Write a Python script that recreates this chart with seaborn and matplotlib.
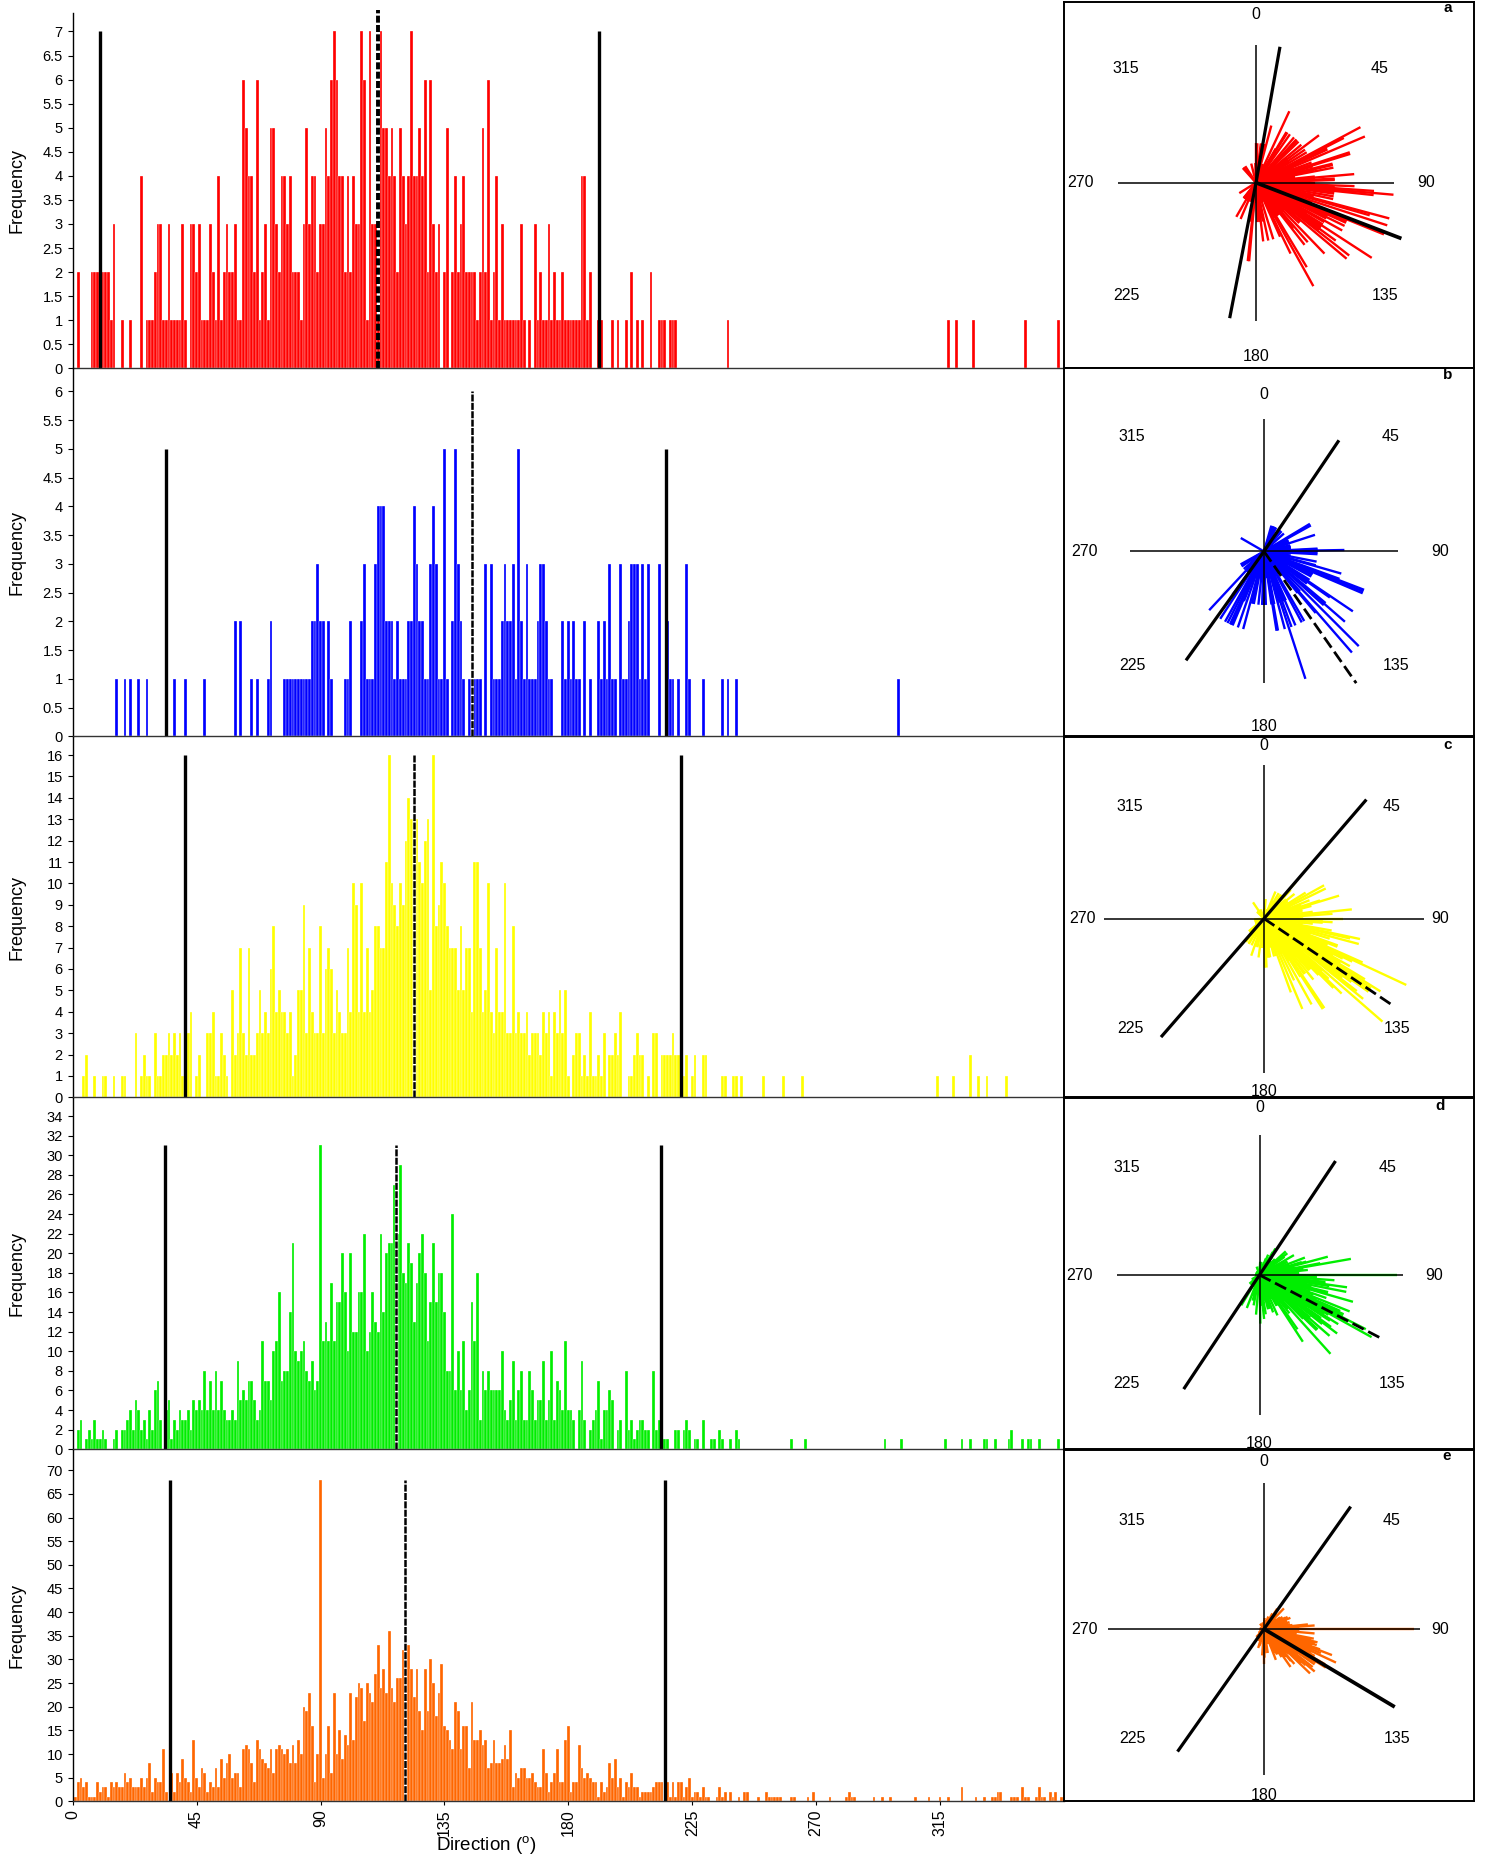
import numpy as np
import pandas as pd
import matplotlib
matplotlib.use('Agg')
import matplotlib.pyplot as plt
from matplotlib.ticker import FuncFormatter
import seaborn as sns

sns.set_theme(style='white')
plt.rcParams['font.family'] = ['Liberation Sans', 'DejaVu Sans']
plt.rcParams['mathtext.fontset'] = 'custom'
plt.rcParams['mathtext.rm'] = 'Liberation Sans'
plt.rcParams['text.color'] = 'black'

# ---------------- data: frequency per 1-degree direction bin (0..359) ----------------
DEG = np.arange(360)

counts_a = [
    2,0,2,0,0,0,0,2,2,2, 0,2,2,2,1,3,0,0,1,0,
    0,1,0,0,0,4,0,1,1,1, 2,3,3,1,1,3,1,1,1,1,
    3,1,0,3,3,2,3,1,1,1, 3,2,1,4,1,2,3,2,2,3,
    1,1,6,5,4,4,2,6,1,2, 3,1,5,5,3,2,4,4,3,4,
    2,2,2,1,3,5,3,4,4,2, 3,3,5,4,6,7,6,4,4,2,
    4,2,4,3,3,7,6,1,7,3, 3,1,7,5,5,4,5,4,2,5,
    4,3,4,7,4,4,5,4,6,2, 6,3,2,3,0,2,5,0,2,4,
    2,3,4,2,2,2,2,1,2,5, 2,6,1,2,4,1,3,1,1,1,
    1,1,1,3,1,0,1,0,3,1, 2,1,1,3,1,2,1,1,2,1,
    1,1,1,1,1,4,4,1,2,0, 0,1,1,0,0,0,1,0,1,0,
    0,1,0,2,0,1,0,1,0,0, 2,0,0,1,1,1,0,1,1,1,
    0,0,0,0,0,0,0,0,0,0, 0,0,0,0,0,0,0,0,1,0,
    0,0,0,0,0,0,0,0,0,0, 0,0,0,0,0,0,0,0,0,0,
    0,0,0,0,0,0,0,0,0,0, 0,0,0,0,0,0,0,0,0,0,
    0,0,0,0,0,0,0,0,0,0, 0,0,0,0,0,0,0,0,0,0,
    0,0,0,0,0,0,0,0,0,0, 0,0,0,0,0,0,0,0,1,0,
    0,1,0,0,0,0,0,1,0,0, 0,0,0,0,0,0,0,0,0,0,
    0,0,0,0,0,0,1,0,0,0, 0,0,0,0,0,0,0,0,1,0,
]

counts_b = [
    0,0,0,0,0,0,0,0,0,0, 0,0,0,0,0,0,1,0,0,1,
    0,1,0,0,1,0,0,1,0,0, 0,0,0,0,0,0,0,1,0,0,
    0,1,0,0,0,0,0,0,1,0, 0,0,0,0,0,0,0,0,0,2,
    0,2,0,0,0,1,0,1,0,0, 0,1,2,0,0,0,0,1,1,1,
    1,1,1,1,1,1,1,2,2,3, 2,2,0,2,1,0,0,0,0,1,
    1,2,0,0,0,2,3,1,1,1, 3,4,4,4,2,2,2,1,2,1,
    1,1,2,2,4,3,2,2,1,1, 3,4,3,1,1,5,1,0,2,5,
    3,2,1,0,1,1,1,1,1,0, 3,0,3,1,1,1,2,3,2,2,
    3,1,5,2,1,3,1,1,1,2, 3,3,2,1,1,0,0,0,2,1,
    2,1,2,1,1,0,2,0,1,0, 0,2,1,2,1,3,1,1,0,3,
    1,1,2,3,3,3,1,3,1,3, 0,0,0,3,0,0,2,1,1,0,
    1,0,0,3,1,0,0,0,0,1, 0,0,0,0,0,0,1,0,1,0,
    0,1,0,0,0,0,0,0,0,0, 0,0,0,0,0,0,0,0,0,0,
    0,0,0,0,0,0,0,0,0,0, 0,0,0,0,0,0,0,0,0,0,
    0,0,0,0,0,0,0,0,0,0, 0,0,0,0,0,0,0,0,0,0,
    1,0,0,0,0,0,0,0,0,0, 0,0,0,0,0,0,0,0,0,0,
    0,0,0,0,0,0,0,0,0,0, 0,0,0,0,0,0,0,0,0,0,
    0,0,0,0,0,0,0,0,0,0, 0,0,0,0,0,0,0,0,0,0,
]

counts_c = [
    1,0,0,0,1,2,0,0,1,0, 0,1,1,0,0,1,0,0,1,1,
    0,0,0,3,0,1,2,1,1,0, 3,1,1,2,2,3,2,3,2,3,
    1,5,3,4,0,1,2,0,0,3, 3,4,1,1,3,2,1,0,5,2,
    3,7,3,2,7,2,2,3,5,3, 4,3,6,8,4,5,4,4,3,4,
    1,2,5,5,9,3,7,4,3,3, 8,3,6,7,6,3,5,4,3,3,
    7,4,10,9,4,10,4,7,4,5, 8,8,7,7,11,16,10,9,8,10,
    9,12,14,13,13,13,11,10,12,13, 5,16,8,9,11,10,8,7,7,7,
    5,8,5,7,7,4,11,11,7,4, 5,10,4,3,7,4,4,10,3,3,
    8,3,4,3,3,4,2,3,3,3, 2,4,3,4,1,4,3,5,3,5,
    1,0,2,3,3,1,2,1,4,1, 1,2,1,3,0,2,2,3,2,4,
    0,0,1,1,2,3,2,2,0,1, 0,3,3,0,2,2,2,2,3,2,
    2,0,1,2,0,1,2,0,0,2, 2,0,0,0,0,0,1,1,0,0,
    1,1,0,1,0,0,0,0,0,0, 0,1,0,0,0,0,0,0,1,0,
    0,0,0,0,0,1,0,0,0,0, 0,0,0,0,0,0,0,0,0,0,
    0,0,0,0,0,0,0,0,0,0, 0,0,0,0,0,0,0,0,0,0,
    0,0,0,0,0,0,0,0,0,0, 0,0,0,0,1,0,0,0,0,0,
    1,0,0,0,0,0,2,0,0,1, 0,0,1,0,0,0,0,0,0,1,
    0,0,0,0,0,0,0,0,0,0, 0,0,0,0,0,0,0,0,0,0,
]

counts_d = [
    1,0,2,3,0,1,2,1,3,1, 1,2,1,0,0,1,2,0,2,2,
    3,4,2,5,4,2,3,1,4,2, 6,7,3,0,4,5,1,3,2,4,
    3,3,4,2,5,4,5,4,8,4, 7,4,8,4,7,4,3,3,4,3,
    9,5,6,5,7,7,5,3,4,11, 7,7,5,10,11,16,7,8,8,14,
    21,10,9,10,11,8,7,9,6,7, 31,11,13,11,17,11,15,15,20,16,
    10,20,12,12,16,16,22,10,12,16, 13,12,22,14,20,21,21,27,22,29,
    18,17,21,19,13,17,20,22,18,11, 15,21,15,18,18,14,8,8,24,6,
    10,6,11,4,6,15,11,18,3,8, 6,8,6,6,6,6,10,4,3,5,
    9,3,6,8,3,3,8,6,3,5, 5,9,3,5,10,3,7,6,4,11,
    4,4,3,0,4,9,3,0,2,3, 4,7,1,4,4,6,5,0,2,3,
    0,8,2,3,1,2,3,3,2,2, 0,8,2,3,0,1,1,0,0,2,
    2,0,2,3,2,0,1,1,0,3, 0,0,1,1,0,2,1,0,0,1,
    0,2,1,0,0,0,0,0,0,0, 0,0,0,0,0,0,0,0,0,0,
    0,1,0,0,0,0,1,0,0,0, 0,0,0,0,0,0,0,0,0,0,
    0,0,0,0,0,0,0,0,0,0, 0,0,0,0,0,1,0,0,0,0,
    0,1,0,0,0,0,0,0,0,0, 0,0,0,0,0,0,0,1,0,0,
    0,0,0,1,0,0,1,0,0,0, 0,1,1,0,0,1,0,0,0,0,
    1,2,0,0,0,1,0,1,1,0, 0,1,0,0,0,0,0,0,1,0,
]

counts_e = [
    2,1,4,5,3,4,1,1,1,4, 2,3,3,1,4,3,4,3,3,6,
    4,5,3,3,3,5,3,5,8,2, 5,4,4,11,2,0,6,2,6,4,
    9,5,4,2,13,5,3,7,6,2, 4,3,7,3,9,5,8,10,5,6,
    6,3,11,12,11,8,4,13,11,9, 8,7,11,6,11,12,11,10,11,8,
    12,8,13,10,20,19,23,16,4,10, 68,5,10,16,6,23,10,15,9,14,
    12,23,13,22,25,24,17,25,23,21, 27,33,24,28,23,36,24,21,26,26,
    32,27,33,28,22,28,19,15,28,19, 30,25,18,23,29,16,15,13,11,21,
    19,11,16,16,7,21,13,13,15,12, 13,7,8,13,8,8,9,12,9,15,
    3,6,5,7,7,5,5,6,4,3, 3,11,6,2,4,6,11,4,4,13,
    16,2,4,4,12,7,5,6,5,4, 4,1,4,2,3,8,5,9,3,5,
    1,4,3,6,3,3,1,2,2,2, 2,3,4,4,4,0,4,1,4,1,
    4,4,1,3,5,1,2,2,1,3, 1,1,0,0,1,3,1,2,0,2,
    0,0,1,0,2,2,0,0,0,1, 0,0,2,1,1,1,1,1,0,0,
    0,1,1,0,0,0,0,1,0,2, 0,0,0,0,0,1,0,0,0,0,
    0,1,2,1,1,0,0,0,0,0, 0,1,0,0,1,0,0,1,0,0,
    0,0,0,0,0,0,1,0,0,0, 0,1,0,0,0,1,0,0,1,0,
    0,0,0,3,0,0,0,0,1,0, 0,1,0,0,1,1,2,2,0,0,
    0,1,1,1,0,3,1,1,0,0, 1,3,1,1,0,2,1,2,0,1,
]

panel_counts = [counts_a, counts_b, counts_c, counts_d, counts_e]
panel_letters = ['a', 'b', 'c', 'd', 'e']
panel_colors = ['#FF0000', '#0000FF', '#FFFF00', '#00EE00', '#FF6600']

# confidence-limit directions (solid lines), their height, mean direction (dashed) and its height
ci_dirs = [(10, 191), (34, 215.6), (40.7, 221), (33.7, 213.6), (35.3, 215.2)]
ci_height = [7, 5, 16, 31, 68]
mean_dir = [111, 145, 124, 117.5, 120.8]
mean_height = [7.45, 6, 16, 31, 68]
rose_mean_len = [7.9, 6.0, 16, 31, 69]

ytick_max = [7, 6, 16, 34, 70]
ytick_step = [0.5, 0.5, 1, 2, 5]
ylim_top = [7.39, 6.4, 16.86, 35.87, 74.35]

xtick_vals = [0, 45, 90, 135, 180, 225, 270, 315]
rose_labels = ['0', '45', '90', '135', '180', '225', '270', '315']

# ---------------- layout (pixels) ----------------
W, H, DPI = 1486, 1860, 100
HX0, HX1 = 72.7, 1064.0
tops = [12.7, 368.3, 736.7, 1097.7, 1449.7]
bots = [368.3, 736.3, 1097.3, 1449.3, 1801.3]
BX0, BX1 = 1063.5, 1474.0
box_tops = [2.4, 368.3, 736.7, 1097.7, 1449.7]
box_bots = [368.3, 736.3, 1097.3, 1449.3, 1800.5]
rose_centers = [(1256, 182.7), (1264, 551.4), (1264, 918.6), (1259.5, 1275), (1264, 1629)]
rose_R = [138, 134, 157, 137, 150]
cross_v = [138, 132, 154, 140, 146]
cross_h = [138, 134, 160, 143, 156]
# label offsets from rose centre (px): order 0,45,90,135,180,225,270,315
lab_off = [
    [(0, -168), (124, -114), (170, 0), (129, 113), (0, 174), (-130, 113), (-176, 0), (-130, -114)],
    [(0, -157), (127, -115), (176, 0), (132, 114), (0, 175), (-132, 114), (-180, 0), (-132, -115)],
    [(0, -173), (128, -112), (176, 0), (133, 110), (0, 173), (-134, 110), (-182, 0), (-134, -112)],
    [(0, -167), (128, -107), (175, 0), (133, 108), (0, 168), (-133, 108), (-180, 0), (-133, -107)],
    [(0, -168), (128, -109), (176, 0), (133, 109), (0, 166), (-132, 109), (-180, 0), (-132, -109)],
]
letter_xy = [(1448, 8), (1448, 375), (1448, 745), (1440, 1106), (1447, 1456)]


def rect(x0, y0, x1, y1):
    return [x0 / W, 1 - y1 / H, (x1 - x0) / W, (y1 - y0) / H]


fig = plt.figure(figsize=(W / DPI, H / DPI), dpi=DPI)
fig.patch.set_facecolor('white')

fmt = FuncFormatter(lambda v, _: f'{v:g}')

for i in range(5):
    cnt = np.array(panel_counts[i], dtype=int)
    col = panel_colors[i]
    obs = pd.DataFrame({'direction': np.repeat(DEG, cnt)})

    # ---------- histogram ----------
    ax = fig.add_axes(rect(HX0, tops[i], HX1, bots[i]))
    sns.histplot(data=obs, x='direction', binwidth=1, binrange=(-0.5, 359.5),
                 color=col, alpha=1, edgecolor='white', linewidth=0.22, ax=ax)
    ax.set_xlim(0, 360)
    ax.set_ylim(0, ylim_top[i])
    ax.set_yticks(np.arange(0, ytick_max[i] + ytick_step[i] / 2, ytick_step[i]))
    ax.yaxis.set_major_formatter(fmt)
    ax.set_xlabel('')
    ax.set_ylabel('')
    ax.vlines(list(ci_dirs[i]), 0, ci_height[i], colors='black', lw=2.4, zorder=4)
    if i == 0:
        ax.vlines(mean_dir[i], 0, mean_height[i], colors='black', lw=2.8,
                  linestyles=[(0, (1.8, 0.6))], zorder=5, clip_on=False)
    else:
        ax.vlines(mean_dir[i], 0, mean_height[i], colors='white', lw=2.4, zorder=4)
        ax.vlines(mean_dir[i], 0, mean_height[i], colors='black', lw=1.8,
                  linestyles=[(0, (2.8, 0.55))], zorder=5)
    for s in ['top', 'right']:
        ax.spines[s].set_visible(False)
    ax.spines['left'].set_color('black')
    ax.spines['left'].set_linewidth(1.0)
    ax.spines['bottom'].set_color('#333333')
    ax.spines['bottom'].set_linewidth(1.0)
    ax.spines['bottom'].set_zorder(6)
    ax.tick_params(axis='y', left=True, length=3.6, width=0.8, color='black',
                   pad=3.5, labelsize=10.5, labelcolor='black')
    ax.set_xticks(xtick_vals)
    if i == 4:
        ax.tick_params(axis='x', bottom=True, length=3, width=0.8, color='black',
                       pad=3, labelsize=11.5, labelcolor='black', labelrotation=90)
    else:
        ax.tick_params(axis='x', bottom=False, labelbottom=False)
    ax.patch.set_alpha(0)
    yc = (tops[i] + bots[i]) / 2
    fig.text(16.7 / W, 1 - yc / H, 'Frequency', rotation=90, ha='center',
             va='center', fontsize=13)

    # ---------- rose box ----------
    box = fig.add_axes(rect(BX0, box_tops[i], BX1, box_bots[i]))
    box.set_xticks([])
    box.set_yticks([])
    box.set_facecolor('white')
    for s in box.spines.values():
        s.set_color('black')
        s.set_linewidth(1.4)

    cx, cy = rose_centers[i]
    S = 200.0
    pax = fig.add_axes(rect(cx - S, cy - S, cx + S, cy + S), projection='polar')
    pax.set_theta_zero_location('N')
    pax.set_theta_direction(-1)
    pax.set_axis_off()
    vmax = ci_height[i]
    k = vmax / rose_R[i]  # data units per pixel
    th = np.radians(DEG)
    nz = cnt > 0
    pax.vlines(th[nz], 0, cnt[nz], colors=col, lw=1.7, zorder=2)
    pax.vlines(np.radians([0, 180]), 0, cross_v[i] * k, colors='black', lw=1.1, zorder=3)
    pax.vlines(np.radians([90, 270]), 0, cross_h[i] * k, colors='black', lw=1.1, zorder=3)
    pax.vlines(np.radians(list(ci_dirs[i])), 0, vmax, colors='black', lw=2.3, zorder=4)
    if i in (0, 4):
        pax.vlines(np.radians(mean_dir[i]), 0, rose_mean_len[i], colors='black',
                   lw=2.7, zorder=5)
    else:
        pax.vlines(np.radians(mean_dir[i]), 0, rose_mean_len[i], colors='black',
                   lw=2.0, linestyles=[(0, (4.5, 1.8))], zorder=5)
    pax.set_ylim(0, S * k)

    for lab, (dx, dy) in zip(rose_labels, lab_off[i]):
        fig.text((cx + dx) / W, 1 - (cy + dy) / H, lab, ha='center', va='center',
                 fontsize=11.5)
    lx, ly = letter_xy[i]
    fig.text(lx / W, 1 - ly / H, panel_letters[i], ha='center', va='center',
             fontsize=11, fontweight='bold')

fig.text(486 / W, 1 - 1846 / H, r'Direction ($^{\mathrm{o}}$)', ha='center',
         va='center', fontsize=13.5)

fig.savefig('out.png', dpi=DPI, facecolor='white')
